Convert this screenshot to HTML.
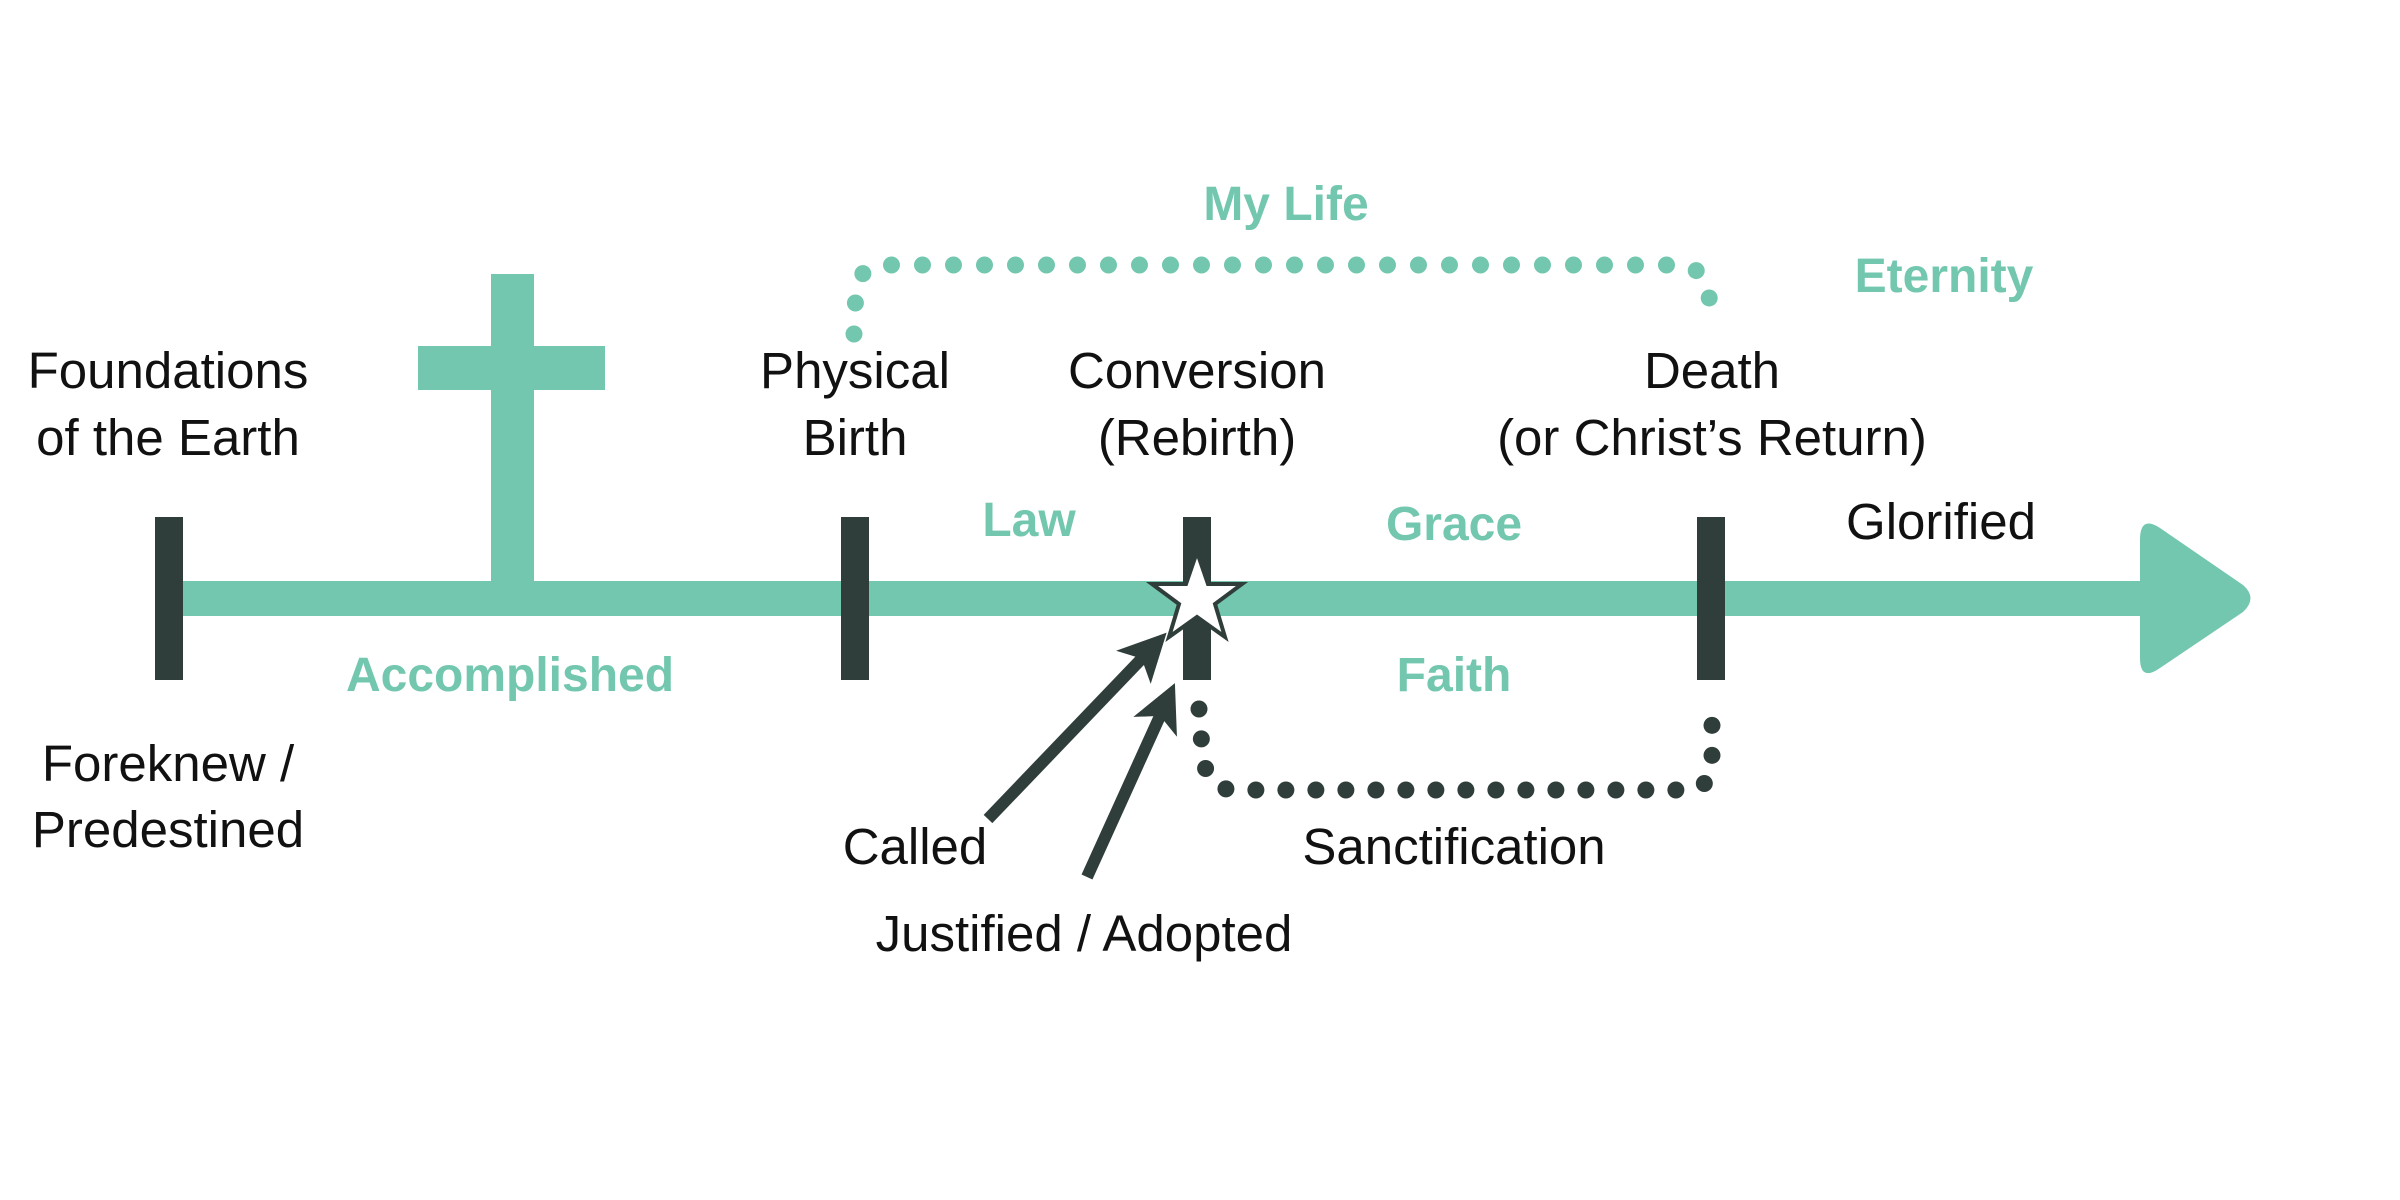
<!DOCTYPE html>
<html><head><meta charset="utf-8"><style>
body{margin:0;background:#fff}
svg{display:block}
text{font-family:"Liberation Sans",sans-serif;font-size:51px;text-anchor:middle;fill:#111}
.b{font-weight:bold;fill:#72c7ae;font-size:48px}
</style></head><body>
<svg width="2400" height="1200" viewBox="0 0 2400 1200">
<defs>
<marker id="ah" markerWidth="4" markerHeight="4" refX="2" refY="2" orient="auto" markerUnits="strokeWidth">
<path d="M0,0 L4,2 L0,4 L1,2 Z" fill="#2f3e3a"/></marker>
</defs>
<rect x="170" y="581" width="1990" height="35" fill="#72c7ae"/>
<path d="M2140,540 Q2140,515 2160,528 L2243,585 Q2258,598 2243,612 L2160,668 Q2140,682 2140,658 Z" fill="#72c7ae"/>
<rect x="491" y="274" width="43" height="320" fill="#72c7ae"/>
<rect x="418" y="346" width="187" height="44" fill="#72c7ae"/>
<rect x="155" y="517" width="28" height="163" fill="#2f3e3a"/>
<rect x="841" y="517" width="28" height="163" fill="#2f3e3a"/>
<rect x="1183" y="517" width="28" height="163" fill="#2f3e3a"/>
<rect x="1697" y="517" width="28" height="163" fill="#2f3e3a"/>
<path d="M854,334 L856,290 Q860,265 885,265 L1680,265 Q1705,265 1710,303" fill="none" stroke="#72c7ae" stroke-width="17" stroke-linecap="round" stroke-dasharray="0 31"/>
<path d="M1199,709 L1203,760 Q1210,790 1235,790 L1685,790 Q1712,790 1712,760 L1712,720" fill="none" stroke="#2f3e3a" stroke-width="17" stroke-linecap="round" stroke-dasharray="0 30"/>
<line x1="988" y1="819" x2="1150" y2="650" stroke="#2f3e3a" stroke-width="12" marker-end="url(#ah)"/>
<line x1="1087" y1="877" x2="1165" y2="705" stroke="#2f3e3a" stroke-width="12" marker-end="url(#ah)"/>
<polygon points="1197,552 1208,584 1242,584 1215,604 1225,637 1197,617 1169,637 1179,604 1152,584 1186,584" fill="#fff" stroke="#2f3e3a" stroke-width="4"/>
<text x="168" y="388">Foundations</text>
<text x="168" y="455">of the Earth</text>
<text x="855" y="388">Physical</text>
<text x="855" y="455">Birth</text>
<text x="1197" y="388">Conversion</text>
<text x="1197" y="455">(Rebirth)</text>
<text x="1712" y="388">Death</text>
<text x="1712" y="455">(or Christ’s Return)</text>
<text x="1941" y="539">Glorified</text>
<text x="168" y="781">Foreknew /</text>
<text x="168" y="847">Predestined</text>
<text x="915" y="864">Called</text>
<text x="1454" y="864">Sanctification</text>
<text x="1084" y="951">Justified / Adopted</text>
<text class="b" x="1286" y="220">My Life</text>
<text class="b" x="1944" y="292">Eternity</text>
<text class="b" x="1029" y="536">Law</text>
<text class="b" x="1454" y="540">Grace</text>
<text class="b" x="510" y="691">Accomplished</text>
<text class="b" x="1454" y="691">Faith</text>
</svg>
</body></html>
